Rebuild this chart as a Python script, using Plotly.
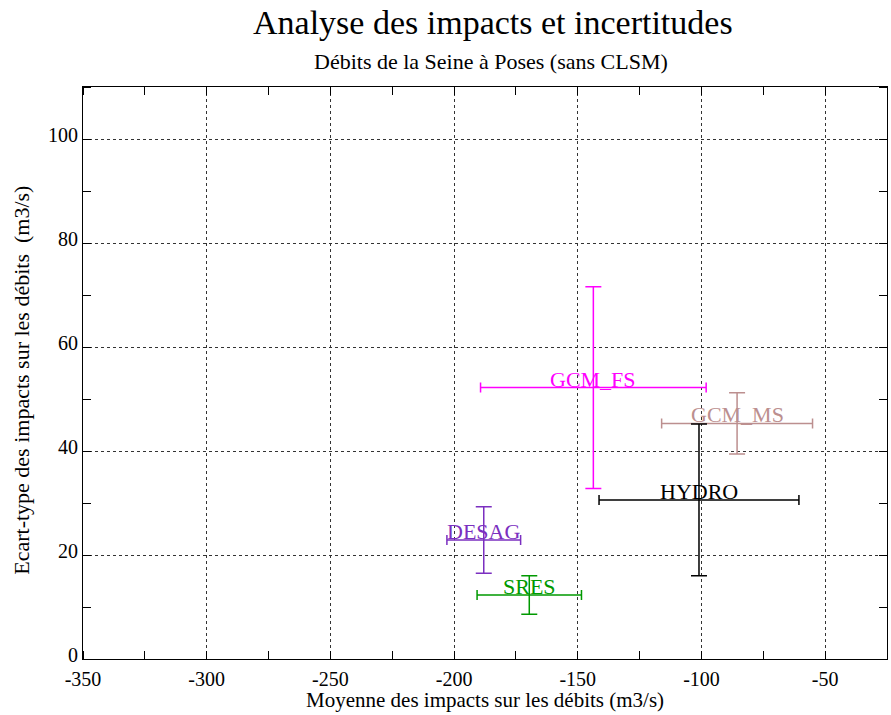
import plotly.graph_objects as go

# Data
names = ["GCM_FS", "GCM_MS", "HYDRO", "DESAG", "SRES"]
mean_impact = [-143.7, -85.6, -101.0, -188.0, -169.6]
mean_err = [45.6, 30.5, 40.4, 14.9, 21.1]
std_impact = [52.2, 45.3, 30.6, 22.9, 12.3]
std_err = [19.4, 5.9, 14.6, 6.4, 3.7]
colors = ["#FF00FF", "#BC8F8F", "#000000", "#7B2FC0", "#009900"]

x_ticks = [-350, -300, -250, -200, -150, -100, -50]
y_ticks = [0, 20, 40, 60, 80, 100]

FONT = "Liberation Serif, Times New Roman, serif"

fig = go.Figure()
for n, x, xe, y, ye, c in zip(names, mean_impact, mean_err, std_impact, std_err, colors):
    fig.add_trace(go.Scatter(
        x=[x], y=[y], mode="markers",
        marker=dict(size=1, color=c),
        error_x=dict(type="data", array=[xe], color=c, thickness=1.5, width=5),
        error_y=dict(type="data", array=[ye], color=c, thickness=1.5, width=8),
        showlegend=False, hoverinfo="skip",
    ))
    fig.add_annotation(x=x, y=y, text=n, showarrow=False, xanchor="center",
                       yanchor="bottom", yshift=-6,
                       font=dict(family=FONT, size=22, color=c))

fig.add_annotation(xref="paper", yref="paper", x=0.51, y=1.112, text="Analyse des impacts et incertitudes",
                   showarrow=False, xanchor="center", yanchor="middle",
                   font=dict(family=FONT, size=34, color="black"))
fig.add_annotation(xref="paper", yref="paper", x=0.508, y=1.044, text="Débits de la Seine à Poses (sans CLSM)",
                   showarrow=False, xanchor="center", yanchor="middle",
                   font=dict(family=FONT, size=22, color="black"))
fig.add_annotation(xref="paper", yref="paper", x=0.5, y=-0.072, text="Moyenne des impacts sur les débits (m3/s)",
                   showarrow=False, xanchor="center", yanchor="middle",
                   font=dict(family=FONT, size=21, color="black"))
fig.add_annotation(xref="paper", yref="paper", x=-0.076, y=0.488, text="Ecart-type des impacts sur les débits  (m3/s)",
                   showarrow=False, xanchor="center", yanchor="middle", textangle=-90,
                   font=dict(family=FONT, size=22, color="black"))

axis_common = dict(
    showline=True, linecolor="black", linewidth=1, mirror="ticks",
    showgrid=True, gridcolor="#333333", gridwidth=1, griddash="dot",
    ticks="", zeroline=False,
    tickfont=dict(family=FONT, size=20, color="black"),
)
fig.update_xaxes(range=[-350, -25], tickvals=x_ticks, ticktext=[str(v) for v in x_ticks],
                 ticklabelstandoff=2,
                 minor=dict(dtick=25, tick0=-350, ticks="inside", ticklen=8, tickcolor="black", showgrid=False),
                 **axis_common)
fig.update_yaxes(range=[0, 110], tickvals=y_ticks, ticktext=[str(v) for v in y_ticks],
                 ticklabelshift=-4,
                 minor=dict(dtick=10, tick0=0, ticks="inside", ticklen=8, tickcolor="black", showgrid=False),
                 **axis_common)

fig.update_layout(
    width=891, height=715,
    margin=dict(l=83, r=4, t=87, b=56),
    plot_bgcolor="white", paper_bgcolor="white",
    font=dict(family=FONT, color="black"),
)
fig.write_html("out.html")
